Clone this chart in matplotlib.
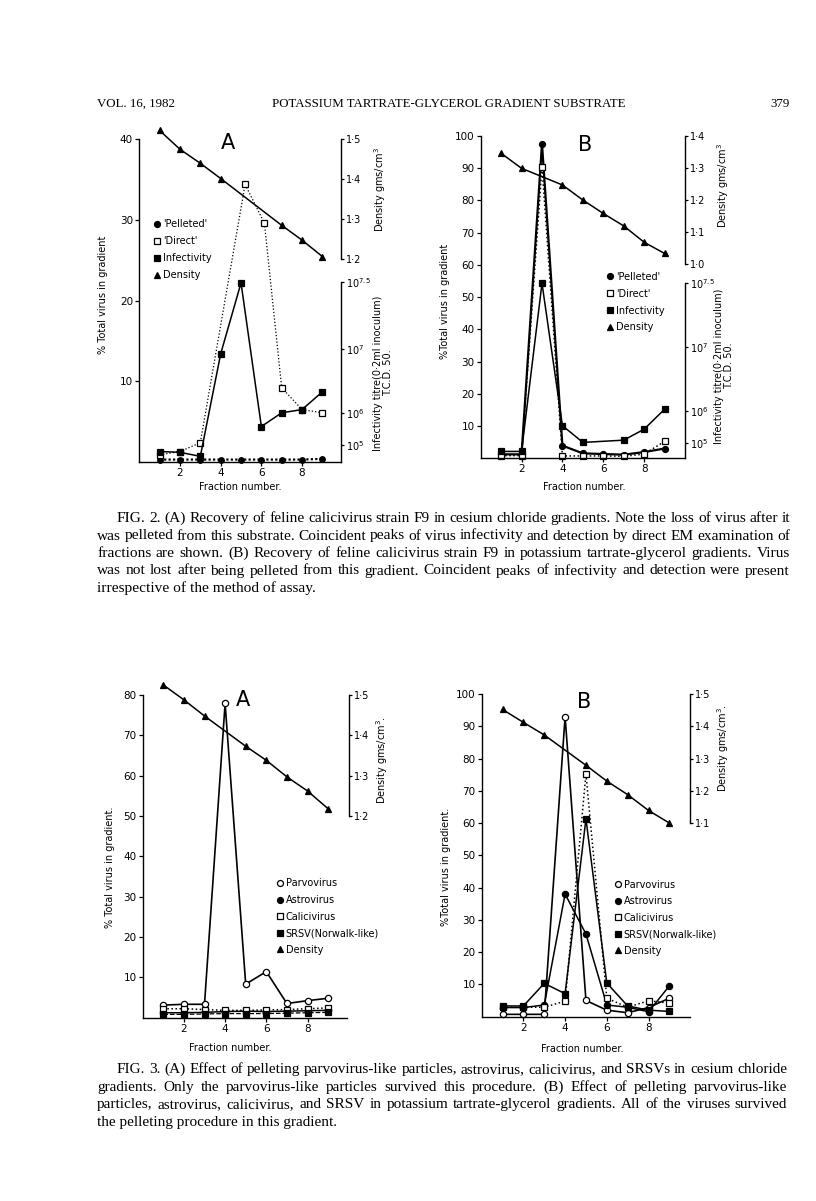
import matplotlib.pyplot as plt
from matplotlib.lines import Line2D

plt.rcParams['font.family'] = 'DejaVu Sans'
plt.rcParams['mathtext.default'] = 'regular'

W, H = 816, 1201
fig = plt.figure(figsize=(W / 100, H / 100), dpi=100)

# ---------------- data ----------------
fractions = [1, 2, 3, 4, 5, 6, 7, 8, 9]

# Fig. 2A  cesium chloride
f2a_pelleted = [0.3, 0.3, 0.3, 0.3, 0.3, 0.3, 0.3, 0.3, 0.4]
f2a_direct_x = [1, 2, 3, 5.2, 6.15, 7, 8, 9]
f2a_direct = [0.9, 1.3, 2.4, 34.4, 29.6, 9.2, 6.5, 6.1]
f2a_infect = [1.3, 1.2, 0.7, 13.4, 22.2, 4.4, 6.1, 6.5, 8.7]
f2a_dens_x = [1, 2, 3, 4, 7, 8, 9]
f2a_density = [1.522, 1.475, 1.44, 1.402, 1.285, 1.248, 1.207]

# Fig. 2B  potassium tartrate-glycerol
f2b_pelleted = [1.2, 1.2, 97.6, 3.9, 1.5, 1.3, 1.1, 1.9, 3.0]
f2b_direct = [0.8, 0.8, 90.5, 0.7, 0.7, 0.7, 0.6, 1.3, 5.2]
f2b_infect_x = [1, 2, 3, 4, 5, 7, 8, 9]
f2b_infect = [2.1, 2.1, 54.3, 10.1, 4.9, 5.6, 9.0, 15.2]
f2b_dens_x = [1, 2, 4, 5, 6, 7, 8, 9]
f2b_density = [1.346, 1.299, 1.247, 1.2, 1.158, 1.119, 1.068, 1.033]

# Fig. 3A  cesium chloride
f3a_parvo = [3.1, 3.3, 3.3, 77.9, 8.3, 11.4, 3.5, 4.2, 4.8]
f3a_astro = [1.2, 1.2, 1.3, 1.5, 1.6, 1.5, 1.6, 1.7, 1.8]
f3a_calici = [2.2, 2.2, 2.0, 1.8, 1.8, 1.9, 2.0, 2.2, 2.4]
f3a_srsv = [0.8, 0.8, 0.9, 1.0, 1.0, 1.0, 1.1, 1.2, 1.3]
f3a_dens_x = [1, 2, 3, 5, 6, 7, 8, 9]
f3a_density = [1.525, 1.488, 1.448, 1.373, 1.338, 1.297, 1.262, 1.218]

# Fig. 3B  potassium tartrate-glycerol
f3b_parvo = [0.7, 0.7, 0.7, 93.0, 5.0, 2.0, 1.2, 2.8, 5.7]
f3b_astro = [2.8, 2.8, 3.6, 38.0, 25.6, 3.6, 2.9, 1.5, 9.5]
f3b_calici = [2.9, 2.9, 2.9, 4.8, 75.2, 5.7, 2.9, 4.9, 4.2]
f3b_srsv = [3.3, 3.3, 10.3, 7.1, 61.3, 10.4, 3.3, 2.0, 1.6]
f3b_dens_x = [1, 2, 3, 5, 6, 7, 8, 9]
f3b_density = [1.452, 1.412, 1.373, 1.279, 1.230, 1.188, 1.139, 1.1]

infect_labels = [r'$10^{7.5}$', r'$10^{7}$', r'$10^{6}$', r'$10^{5}$']

FS = 7      # labels, legends
TFS = 7.5   # tick labels


def fx(x):
    return x / W


def fy(y):
    return 1 - y / H


def make_axes(x0, x1, y0, y1, xlim, ylim):
    # pixel columns of xlim ends, pixel rows of ylim ends
    ax = fig.add_axes([fx(x0), fy(y0), (x1 - x0) / W, (y0 - y1) / H])
    ax.set_xlim(*xlim)
    ax.set_ylim(*ylim)
    ax.patch.set_alpha(0)
    ax.spines['top'].set_visible(False)
    ax.spines['right'].set_visible(False)
    for s in ('left', 'bottom'):
        ax.spines[s].set_linewidth(1.0)
    ax.set_xticks([2, 4, 6, 8])
    ax.tick_params(direction='out', length=3, width=0.9, labelsize=TFS, pad=1.5)
    return ax


def right_axis(ax, ylim, ticks, labels, bounds):
    tw = ax.twinx()
    tw.set_ylim(*ylim)
    for s in ('top', 'left', 'bottom'):
        tw.spines[s].set_visible(False)
    tw.spines['right'].set_bounds(*bounds)
    tw.spines['right'].set_linewidth(1.0)
    tw.set_yticks(ticks)
    tw.set_yticklabels(labels)
    tw.tick_params(direction='out', length=2.5, width=0.9, labelsize=TFS - 0.5, pad=1)
    tw.patch.set_alpha(0)
    return tw


def series(ax, x, y, marker, filled, ls='-', lw=1.1, ms=4.5):
    ax.plot(x, y, ls=ls, lw=lw, color='black', marker=marker, ms=ms,
            mfc='black' if filled else 'white', mec='black', mew=0.9,
            clip_on=False)


def legend(ax, entries, x_px, y_px, spacing):
    handles = [Line2D([], [], ls='none', marker=m, ms=4.3, color='black',
                      mfc='black' if f else 'white', mec='black', mew=0.9)
               for m, f, _ in entries]
    ax.legend(handles, [e[2] for e in entries], loc='upper left',
              bbox_to_anchor=(fx(x_px), fy(y_px)), bbox_transform=fig.transFigure,
              frameon=False, fontsize=FS, handlelength=0.7, handletextpad=0.25,
              borderpad=0, borderaxespad=0, labelspacing=spacing)


def vtext(x, y, s, **kw):
    fig.text(fx(x), fy(y), s, rotation=90, ha='center', va='center',
             fontsize=FS, **kw)


# ---------------- Fig. 2A ----------------
ax = make_axes(139.3, 340.7, 462, 139.3, (0, 9.9), (0, 40))
ax.spines['left'].set_bounds(0, 40)
ax.set_yticks([10, 20, 30, 40])
series(ax, fractions, f2a_pelleted, 'o', True, ls=(0, (1, 1)), lw=1.6, ms=4)
series(ax, f2a_direct_x, f2a_direct, 's', False, ls=':', lw=0.9)
series(ax, fractions, f2a_infect, 's', True)
legend(ax, [('o', True, "'Pelleted'"), ('s', False, "'Direct'"),
            ('s', True, 'Infectivity'), ('^', True, 'Density')],
       153.9, 219.2, 0.71)
d = right_axis(ax, (1.5 - 40 * 0.3 / 14.88, 1.5), [1.2, 1.3, 1.4, 1.5],
               ['1·2', '1·3', '1·4', '1·5'], (1.2, 1.5))
series(d, f2a_dens_x, f2a_density, '^', True)
right_axis(ax, (0, 40), [22.27, 13.97, 6.03, 2.11], infect_labels, (0, 22.27))
fig.text(fx(228), fy(143), 'A', fontsize=15, ha='center', va='center')
vtext(103, 295, '% Total virus in gradient')
vtext(380, 190, 'Density gms/cm$^3$')
vtext(383, 373, 'Infectivity titre(0·2ml inoculum)\nT.C.D. 50.',
      multialignment='center', linespacing=1.0)
fig.text(fx(240), fy(487), 'Fraction number.', fontsize=FS, ha='center', va='center')

# ---------------- Fig. 2B ----------------
ax = make_axes(480.7, 685, 458.2, 136, (0, 10), (0, 100))
ax.spines['left'].set_bounds(0, 100)
ax.set_yticks(range(10, 101, 10))
series(ax, fractions, f2b_pelleted, 'o', True, lw=1.6, ms=4.3)
series(ax, fractions, f2b_direct, 's', False, ls=':', lw=1.1)
series(ax, f2b_infect_x, f2b_infect, 's', True)
legend(ax, [('o', True, "'Pelleted'"), ('s', False, "'Direct'"),
            ('s', True, 'Infectivity'), ('^', True, 'Density')],
       606.6, 271.9, 0.70)
d = right_axis(ax, (1.4 - 100 * 0.4 / 39.73, 1.4), [1.0, 1.1, 1.2, 1.3, 1.4],
               ['1·0', '1·1', '1·2', '1·3', '1·4'], (1.0, 1.4))
series(d, f2b_dens_x, f2b_density, '^', True)
right_axis(ax, (0, 100), [54.47, 34.42, 14.74, 4.62], infect_labels, (0, 54.47))
fig.text(fx(585.6), fy(145), 'B', fontsize=15, ha='center', va='center')
vtext(445, 301, '%Total virus in gradient')
vtext(723, 186, 'Density gms/cm$^3$')
vtext(724.5, 366, 'Infectivity titre(0·2ml inoculum)\nT.C.D. 50.',
      multialignment='center', linespacing=1.0)
fig.text(fx(584), fy(487), 'Fraction number.', fontsize=FS, ha='center', va='center')

# ---------------- Fig. 3A ----------------
ax = make_axes(142.7, 348.7, 1017.6, 695, (0, 10), (0, 80))
ax.spines['left'].set_bounds(0, 80)
ax.spines['bottom'].set_bounds(0, 9.9)
ax.set_yticks(range(10, 81, 10))
series(ax, fractions, f3a_parvo, 'o', False, lw=1.2)
series(ax, fractions, f3a_astro, 'o', True)
series(ax, fractions, f3a_calici, 's', False, ls=':')
series(ax, fractions, f3a_srsv, 's', True, ls='--', lw=0.9)
legend(ax, [('o', False, 'Parvovirus'), ('o', True, 'Astrovirus'),
            ('s', False, 'Calicivirus'), ('s', True, 'SRSV(Norwalk-like)'),
            ('^', True, 'Density')], 276.6, 878.5, 0.67)
d = right_axis(ax, (0.7, 1.5), [1.2, 1.3, 1.4, 1.5],
               ['1·2', '1·3', '1·4', '1·5'], (1.2, 1.5))
series(d, f3a_dens_x, f3a_density, '^', True)
fig.text(fx(242.5), fy(700), 'A', fontsize=15, ha='center', va='center')
vtext(110, 867, '% Total virus in gradient.')
vtext(382, 760, 'Density gms/cm$^3$.')
fig.text(fx(230), fy(1048), 'Fraction number.', fontsize=FS, ha='center', va='center')

# ---------------- Fig. 3B ----------------
ax = make_axes(481.7, 690.2, 1016.6, 694, (0, 10), (0, 100))
ax.spines['left'].set_bounds(0, 100)
ax.set_yticks(range(10, 101, 10))
series(ax, fractions, f3b_parvo, 'o', False, lw=1.2)
series(ax, fractions, f3b_astro, 'o', True)
series(ax, fractions, f3b_calici, 's', False, ls=':')
series(ax, fractions, f3b_srsv, 's', True)
legend(ax, [('o', False, 'Parvovirus'), ('o', True, 'Astrovirus'),
            ('s', False, 'Calicivirus'), ('s', True, 'SRSV(Norwalk-like)'),
            ('^', True, 'Density')], 614.3, 879.5, 0.67)
d = right_axis(ax, (0.5, 1.5), [1.1, 1.2, 1.3, 1.4, 1.5],
               ['1·1', '1·2', '1·3', '1·4', '1·5'], (1.1, 1.5))
series(d, f3b_dens_x, f3b_density, '^', True)
fig.text(fx(584), fy(702), 'B', fontsize=15, ha='center', va='center')
vtext(446, 867, '%Total virus in gradient.')
vtext(723, 748, 'Density gms/cm$^3$.')
fig.text(fx(582), fy(1049), 'Fraction number.', fontsize=FS, ha='center', va='center')

# ---------------- page text ----------------
renderer = fig.canvas.get_renderer()
SERIF = 'Liberation Serif'


def text_width(s, size):
    t = fig.text(0, 0, s, family=SERIF, fontsize=size)
    w = t.get_window_extent(renderer).width
    t.remove()
    return w


title_txt = 'POTASSIUM TARTRATE-GLYCEROL GRADIENT SUBSTRATE'
hsize = 10 * 356 / text_width(title_txt, 10)
fig.text(fx(97), fy(107), 'VOL. 16, 1982', family=SERIF, fontsize=hsize)
fig.text(fx(449), fy(107), title_txt, ha='center', family=SERIF, fontsize=hsize)
fig.text(fx(790), fy(107), '379', ha='right', family=SERIF, fontsize=hsize)

cap2 = [
    'FIG. 2. (A) Recovery of feline calicivirus strain F9 in cesium chloride gradients. Note the loss of virus after it',
    'was pelleted from this substrate. Coincident peaks of virus infectivity and detection by direct EM examination of',
    'fractions are shown. (B) Recovery of feline calicivirus strain F9 in potassium tartrate-glycerol gradients. Virus',
    'was not lost after being pelleted from this gradient. Coincident peaks of infectivity and detection were present',
    'irrespective of the method of assay.',
]
cap3 = [
    'FIG. 3. (A) Effect of pelleting parvovirus-like particles, astrovirus, calicivirus, and SRSVs in cesium chloride',
    'gradients. Only the parvovirus-like particles survived this procedure. (B) Effect of pelleting parvovirus-like',
    'particles, astrovirus, calicivirus, and SRSV in potassium tartrate-glycerol gradients. All of the viruses survived',
    'the pelleting procedure in this gradient.',
]


def caption(lines, y_first, dy, x_right, x_first=117, x_left=97):
    # font size chosen so the tightest full line sets with ordinary spaces
    starts = [x_first] + [x_left] * (len(lines) - 1)
    size = 10 * min((x_right - x0) / text_width(s, 10)
                    for s, x0 in zip(lines[:-1], starts[:-1]))
    for i, line in enumerate(lines):
        x0 = starts[i]
        yb = fy(y_first + i * dy + 4)
        if i == len(lines) - 1:
            fig.text(fx(x0), yb, line, va='baseline', family=SERIF, fontsize=size)
            continue
        words = line.split()
        widths = [text_width(w, size) for w in words]
        gap = (x_right - x0 - sum(widths)) / (len(words) - 1)
        x = x0
        for w, wd in zip(words, widths):
            fig.text(fx(x), yb, w, va='baseline', family=SERIF, fontsize=size)
            x += wd + gap


caption(cap2, 518, 17.5, 790)
caption(cap3, 1069, 17.6, 787)

fig.savefig('out.png', dpi=100, facecolor='white')
